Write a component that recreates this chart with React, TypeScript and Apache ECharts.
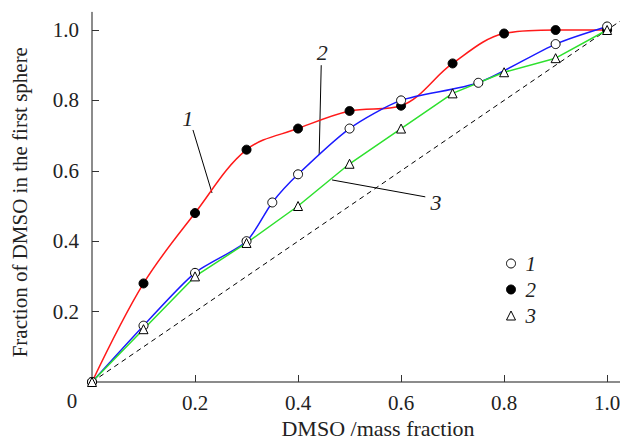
import React, { useEffect, useRef } from "react";
import * as echarts from "echarts";

const xValues = [0, 0.1, 0.2, 0.3, 0.4, 0.5, 0.6, 0.7, 0.8, 0.9, 1.0];
const redValues = [0.0, 0.28, 0.48, 0.66, 0.72, 0.77, 0.785, 0.905, 0.99, 1.0, 1.0];
const blueX = [0, 0.1, 0.2, 0.3, 0.35, 0.4, 0.5, 0.6, 0.75, 0.9, 1.0];
const blueValues = [0.0, 0.16, 0.31, 0.4, 0.51, 0.59, 0.72, 0.8, 0.85, 0.96, 1.01];
const greenValues = [0.0, 0.15, 0.3, 0.395, 0.5, 0.62, 0.72, 0.82, 0.88, 0.92, 1.0];
const diagonal = [0, 1.025];
const tickValues = [0.2, 0.4, 0.6, 0.8, 1.0];

// annotations in data coordinates: label position, leader line from -> to
const annotations = [
  { text: "1", at: [0.186, 0.75], from: [0.196, 0.716], to: [0.233, 0.537] },
  { text: "2", at: [0.447, 0.935], from: [0.445, 0.9], to: [0.441, 0.645] },
  { text: "3", at: [0.668, 0.509], from: [0.647, 0.526], to: [0.466, 0.574] },
];

const SERIF = "Liberation Serif";
const FS = 21;

export default function App() {
  const ref = useRef<HTMLDivElement>(null);
  useEffect(() => {
    document.body.style.margin = "0";
    const chart = echarts.init(ref.current!, null, { renderer: "svg" });
    const lineCommon = { type: "line", symbolSize: 9, z: 3 };
    chart.setOption({
      animation: false,
      backgroundColor: "#fff",
      grid: { left: 92, top: 12.4, bottom: 60, right: 0, containLabel: false, outerBoundsMode: "none" },
      xAxis: {
        type: "value",
        min: 0,
        max: 1.025,
        interval: 0.2,
        name: "DMSO /mass fraction",
        nameLocation: "middle",
        nameGap: 34,
        nameTextStyle: { fontFamily: SERIF, fontSize: 22, color: "#222", padding: [0, 0, 0, 44] },
        axisLine: { show: true, lineStyle: { color: "#666", width: 1.5 } },
        axisTick: { show: true, inside: true, length: 7, customValues: tickValues, lineStyle: { color: "#333", width: 1 } },
        axisLabel: { customValues: tickValues, margin: 10, fontFamily: SERIF, fontSize: FS, color: "#222", formatter: (v: number) => v.toFixed(1) },
        splitLine: { show: false },
      },
      yAxis: {
        type: "value",
        min: 0,
        max: 1.05,
        interval: 0.2,
        name: "Fraction of DMSO in the first sphere",
        nameLocation: "middle",
        nameGap: 62,
        nameTextStyle: { fontFamily: SERIF, fontSize: FS, color: "#222", padding: [0, 10, 0, 0] },
        axisLine: { show: true, lineStyle: { color: "#666", width: 1.5 } },
        axisTick: { show: true, inside: true, length: 7, customValues: tickValues, lineStyle: { color: "#333", width: 1 } },
        axisLabel: { customValues: tickValues, margin: 13, fontFamily: SERIF, fontSize: FS, color: "#222", formatter: (v: number) => v.toFixed(1) },
        splitLine: { show: false },
      },
      legend: {
        orient: "vertical",
        left: 501,
        top: 248,
        itemWidth: 9,
        itemHeight: 9,
        itemGap: 5,
        textStyle: { fontFamily: SERIF, fontSize: FS, fontStyle: "italic", color: "#222", padding: [0, 0, 0, 5] },
        data: [
          { name: "1", icon: "circle", itemStyle: { color: "#fff", borderColor: "#000", borderWidth: 1 } },
          { name: "2", icon: "circle", itemStyle: { color: "#000", borderColor: "#000", borderWidth: 1 } },
          { name: "3", icon: "triangle", itemStyle: { color: "#fff", borderColor: "#000", borderWidth: 1 } },
        ],
      },
      series: [
        {
          type: "line",
          name: "diag",
          data: diagonal.map((v) => [v, v]),
          showSymbol: false,
          symbol: "none",
          lineStyle: { color: "#000", width: 1, type: [5, 4] },
          z: 1,
          silent: true,
        },
        {
          ...lineCommon,
          name: "2",
          data: xValues.map((x, i) => [x, redValues[i]]),
          smooth: 0.35,
          symbol: "circle",
          lineStyle: { color: "#ff1a1a", width: 1.5 },
          itemStyle: { color: "#000", borderColor: "#000", borderWidth: 1 },
        },
        {
          ...lineCommon,
          name: "1",
          data: blueX.map((x, i) => [x, blueValues[i]]),
          smooth: 0.25,
          symbol: "circle",
          lineStyle: { color: "#1a1aff", width: 1.5 },
          itemStyle: { color: "#fff", borderColor: "#000", borderWidth: 1 },
        },
        {
          ...lineCommon,
          name: "3",
          data: xValues.map((x, i) => [x, greenValues[i]]),
          symbol: "triangle",
          lineStyle: { color: "#2ee02e", width: 1.5 },
          itemStyle: { color: "#fff", borderColor: "#000", borderWidth: 1 },
        },
      ],
    });

    const px = (p: number[]) => chart.convertToPixel({ gridIndex: 0 }, p) as number[];
    const graphics: any[] = [
      {
        type: "text",
        x: 72,
        y: 401,
        style: { text: "0", font: `${FS}px '${SERIF}'`, fill: "#222", align: "center", verticalAlign: "middle" },
      },
    ];
    annotations.forEach((a) => {
      const at = px(a.at);
      const f = px(a.from);
      const t = px(a.to);
      graphics.push({
        type: "text",
        x: at[0],
        y: at[1],
        style: { text: a.text, font: `italic 22px '${SERIF}'`, fill: "#222", align: "center", verticalAlign: "middle" },
      });
      graphics.push({
        type: "line",
        shape: { x1: f[0], y1: f[1], x2: t[0], y2: t[1] },
        style: { stroke: "#000", lineWidth: 1 },
      });
    });
    chart.setOption({ graphic: graphics });

    return () => chart.dispose();
  }, []);
  return <div ref={ref} style={{ width: 620, height: 442 }} />;
}
